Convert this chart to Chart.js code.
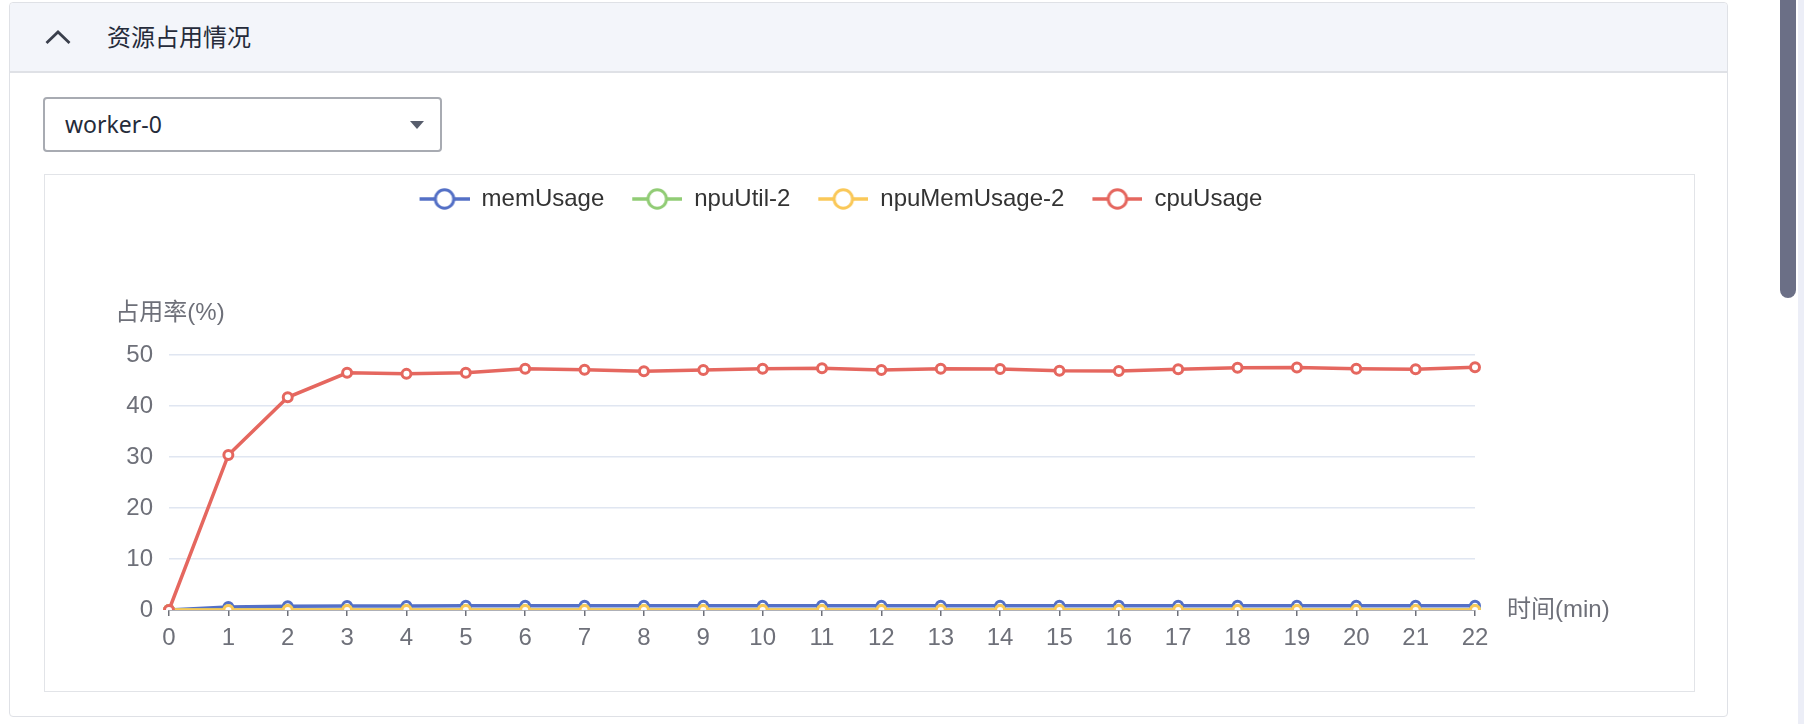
<!DOCTYPE html>
<html>
<head>
<meta charset="utf-8">
<script src="https://cdn.jsdelivr.net/npm/chart.js@4.4.1/dist/chart.umd.min.js"></script>
<style>
  html, body { margin: 0; padding: 0; background: #fff; }
  body { width: 1804px; height: 724px; position: relative; overflow: hidden; font-family: "Noto Sans CJK SC", "Noto Sans", sans-serif; }
  .panel { position: absolute; left: 9px; top: 2px; width: 1717px; height: 713px; border: 1.5px solid #dfe1e6; border-radius: 4px; background: #fff; }
  .head { position: absolute; left: 0; top: 0; right: 0; height: 68px; background: #f3f5fa; border-bottom: 2px solid #dfe1e6; border-radius: 4px 4px 0 0; }
  .head svg { position: absolute; left: 35px; top: 26px; }
  .head span { position: absolute; left: 97px; top: 15px; font-size: 24px; line-height: 36px; color: #252b3a; }
  .select { position: absolute; left: 43px; top: 97px; width: 395px; height: 51px; border: 2px solid #a8abb2; border-radius: 4px; background: #fff; }
  .select span { position: absolute; left: 20px; top: 8px; font-family: "Noto Sans", sans-serif; font-size: 23px; line-height: 34px; color: #252b3a; }
  .select i { position: absolute; left: 365px; top: 22px; width: 0; height: 0; border-left: 7px solid transparent; border-right: 7px solid transparent; border-top: 8px solid #575d6c; }
  .box { position: absolute; left: 44px; top: 174px; width: 1649px; height: 516px; border: 1.5px solid #e2e4e8; background: #fff; }
  .box canvas { position: absolute; left: 0; top: 0; }
  .thumb { position: absolute; left: 1780px; top: -10px; width: 16px; height: 308px; border-radius: 8px; background: #6b6f86; }
  .track { position: absolute; left: 1798px; top: 0; width: 6px; height: 724px; background: #eceef7; }
</style>
</head>
<body>
<div class="panel">
  <div class="head">
    <svg width="26" height="16" viewBox="0 0 26 16"><polyline points="1.5,14 13,3 24.5,14" fill="none" stroke="#3a3f4c" stroke-width="2.8"/></svg>
    <span>资源占用情况</span>
  </div>
</div>
<div class="select"><span>worker-0</span><i></i></div>
<div class="box"><canvas id="usageChart" width="1649" height="516"></canvas></div>
<div class="thumb"></div>
<div class="track"></div>

<script>
// 时间轴(分钟)
const timeLabels = ['0', '1', '2', '3', '4', '5', '6', '7', '8', '9', '10', '11', '12', '13', '14', '15', '16', '17', '18', '19', '20', '21', '22'];
const memUsage = [0, 0.6, 0.75, 0.8, 0.8, 0.85, 0.85, 0.85, 0.85, 0.85, 0.85, 0.85, 0.85, 0.85, 0.85, 0.85, 0.85, 0.85, 0.85, 0.85, 0.85, 0.85, 0.85];
const npuUtil2 = [0, 0, 0, 0, 0, 0, 0, 0, 0, 0, 0, 0, 0, 0, 0, 0, 0, 0, 0, 0, 0, 0, 0];
const npuMemUsage2 = [0, 0, 0, 0, 0, 0, 0, 0, 0, 0, 0, 0, 0, 0, 0, 0, 0, 0, 0, 0, 0, 0, 0];
const cpuUsage = [0, 30.4, 41.7, 46.5, 46.3, 46.5, 47.3, 47.1, 46.8, 47.05, 47.3, 47.4, 47.05, 47.3, 47.25, 46.9, 46.85, 47.2, 47.5, 47.55, 47.3, 47.2, 47.6];
const yTicks = [0, 10, 20, 30, 40, 50];
const yAxisName = '占用率(%)';
const xAxisName = '时间(min)';

const colors = ['#5470c6', '#91cc75', '#fac858', '#e5675f'];

Chart.defaults.font.family = '"Liberation Sans", "Noto Sans CJK SC", sans-serif';
Chart.defaults.font.size = 24;

// legend icon: line with an empty circle, like echarts
function legendIcon(color) {
  const c = document.createElement('canvas');
  c.width = 68;
  c.height = 24;
  const g = c.getContext('2d');
  g.strokeStyle = color;
  g.lineWidth = 3.5;
  g.beginPath();
  g.moveTo(18, 12);
  g.lineTo(68, 12);
  g.stroke();
  g.beginPath();
  g.arc(43, 12, 9.2, 0, Math.PI * 2);
  g.fillStyle = '#fff';
  g.fill();
  g.lineWidth = 3;
  g.stroke();
  return c;
}
const icons = colors.map(legendIcon);

function series(label, data, i, order) {
  return {
    label: label,
    data: data,
    borderColor: colors[i],
    backgroundColor: colors[i],
    borderWidth: 3.5,
    pointRadius: 4.5,
    pointBorderWidth: 3,
    pointBackgroundColor: '#fff',
    pointBorderColor: colors[i],
    tension: 0,
    order: order
  };
}

const axisNames = {
  id: 'axisNames',
  afterDraw(chart) {
    const { ctx, chartArea } = chart;
    ctx.save();
    ctx.font = '24px "Liberation Sans", "Noto Sans CJK SC", sans-serif';
    ctx.fillStyle = '#6e7079';
    ctx.textBaseline = 'middle';
    ctx.textAlign = 'center';
    ctx.fillText(yAxisName, chartArea.left + 1, chartArea.top - 42);
    ctx.textAlign = 'left';
    ctx.fillText(xAxisName, chartArea.right + 32, chartArea.bottom);
    ctx.restore();
  }
};

new Chart(document.getElementById('usageChart'), {
  type: 'line',
  data: {
    labels: timeLabels,
    datasets: [
      series('memUsage', memUsage, 0, 4),
      series('npuUtil-2', npuUtil2, 1, 3),
      series('npuMemUsage-2', npuMemUsage2, 2, 2),
      series('cpuUsage', cpuUsage, 3, 1)
    ]
  },
  options: {
    responsive: false,
    animation: false,
    layout: { padding: { left: 0, right: 75, top: 2, bottom: 0 } },
    plugins: {
      tooltip: { enabled: false },
      legend: {
        position: 'top',
        labels: {
          usePointStyle: true,
          pointStyleWidth: 68,
          padding: 10,
          color: '#333',
          font: { size: 24 },
          sort: (a, b) => a.datasetIndex - b.datasetIndex,
          generateLabels(chart) {
            const items = Chart.defaults.plugins.legend.labels.generateLabels(chart);
            items.forEach(it => { it.pointStyle = icons[it.datasetIndex]; });
            return items;
          }
        }
      },
      // empty title only used as spacer between legend and plot
      title: { display: true, text: '', weight: 500, font: { size: 10, lineHeight: 1 }, padding: { top: 124, bottom: 0 } }
    },
    scales: {
      x: {
        grid: { display: true, drawOnChartArea: false, drawTicks: true, tickLength: 6, color: '#6e7079', lineWidth: 1.5 },
        border: { display: true, color: '#6e7079', width: 1.5 },
        ticks: { color: '#6e7079', padding: 8, maxRotation: 0, autoSkip: false, font: { size: 24 } },
        afterFit(s) { s.height = 81; }
      },
      y: {
        min: yTicks[0],
        max: yTicks[yTicks.length - 1],
        grid: { color: '#e0e6f1', lineWidth: 1.5, drawTicks: false },
        border: { display: false },
        ticks: { stepSize: 10, color: '#6e7079', padding: 16, font: { size: 24 } },
        afterFit(s) { s.width = 124; }
      },
      y2: {
        position: 'right',
        grid: { display: false },
        border: { display: false },
        ticks: { display: false },
        afterFit(s) { s.width = 144; }
      }
    }
  },
  plugins: [axisNames]
});
</script>
</body>
</html>
